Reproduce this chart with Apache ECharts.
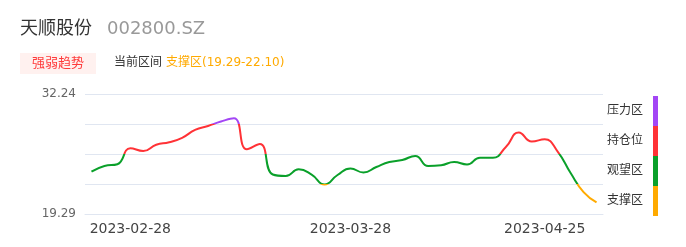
<!DOCTYPE html>
<html>
<head>
<meta charset="utf-8">
<script src="https://cdn.jsdelivr.net/npm/echarts@6/dist/echarts.min.js"></script>
<style>
html,body{margin:0;padding:0;background:#fff;}
#c{width:686px;height:247px;}
</style>
</head>
<body>
<div id="c"></div>
<script>
var dates = ['2023-02-23','2023-02-24','2023-02-27','2023-02-28','2023-03-01','2023-03-02','2023-03-03','2023-03-06','2023-03-07','2023-03-08',
  '2023-03-09','2023-03-10','2023-03-13','2023-03-14','2023-03-15','2023-03-16','2023-03-17','2023-03-20','2023-03-21','2023-03-22',
  '2023-03-28','2023-03-29','2023-03-30','2023-03-31','2023-04-03','2023-04-04','2023-04-06','2023-04-07','2023-04-10','2023-04-11',
  '2023-04-12','2023-04-13','2023-04-14','2023-04-17','2023-04-18','2023-04-25','2023-04-26','2023-04-27','2023-04-28','2023-05-04'];
var prices = [23.86,24.47,24.66,26.38,26.09,26.76,27.03,27.51,28.36,28.79,
  29.27,29.62,26.27,26.84,23.55,23.39,24.11,23.55,22.47,23.50,
  24.20,23.77,24.36,24.90,25.12,25.55,24.47,24.55,24.90,24.63,
  25.37,25.37,26.52,28.09,27.11,27.35,26.03,23.71,21.66,20.55];
var labelDates = ['2023-02-28','2023-03-28','2023-04-25'];
var yMin = 19.29, yMax = 32.24;
var zoneNames = ['压力区','持仓位','观望区','支撑区'];
var zoneColors = ['#a346f5','#ff3236','#0aa02a','#ffaa00'];
var zoneBounds = [19.29, 22.5275, 25.765, 29.0025, 32.24];
var stockName = '天顺股份', stockCode = '002800.SZ';
var tagText = '强弱趋势', curLabel = '当前区间', curZone = '支撑区(19.29-22.10)';

var FF = '"DejaVu Sans","Noto Sans CJK SC",sans-serif';
var chart = echarts.init(document.getElementById('c'));
var pieces = [];
for (var k = 0; k < 4; k++) {
  var lo = zoneBounds[3 - k], hi = zoneBounds[4 - k];
  pieces.push({gte: lo, lt: (k === 0 ? 1000 : hi), color: zoneColors[k], label: zoneNames[k]});
}
chart.setOption({
  animation: false,
  grid: {left: 85, right: 83, top: 94, bottom: 33},
  xAxis: {
    type: 'category', data: dates, boundaryGap: true,
    axisLine: {show: true, lineStyle: {color: '#E0E6F1'}},
    axisTick: {show: false},
    axisLabel: {
      interval: function (i, v) { return labelDates.indexOf(v) >= 0; },
      fontSize: 14, color: '#444', fontFamily: FF, margin: 8
    }
  },
  yAxis: {
    type: 'value', min: yMin, max: yMax, interval: (yMax - yMin) / 4,
    axisLine: {show: false}, axisTick: {show: false},
    splitLine: {lineStyle: {color: '#E0E6F1'}},
    axisLabel: {
      fontSize: 12, color: '#666', fontFamily: FF, margin: 9,
      formatter: function (v) {
        if (Math.abs(v - yMin) < 1e-6 || Math.abs(v - yMax) < 1e-6) return v.toFixed(2);
        return '';
      }
    }
  },
  visualMap: {
    type: 'piecewise', orient: 'vertical', right: 13, top: 81,
    itemWidth: 5, itemHeight: 30, itemGap: 0, itemSymbol: 'rect',
    align: 'right', textGap: 10, selectedMode: false,
    textStyle: {fontSize: 12, color: '#333', fontFamily: FF},
    pieces: pieces, dimension: 1, seriesIndex: 0
  },
  series: [{
    type: 'line', data: prices, smooth: true, symbol: 'none',
    lineStyle: {width: 2}
  }],
  graphic: [
    {type: 'text', left: 20, top: 20, style: {text: stockName, fontSize: 18, fill: '#333', fontFamily: FF}},
    {type: 'text', left: 107, top: 20, style: {text: stockCode, fontSize: 18, fill: '#999', fontFamily: FF}},
    {type: 'rect', shape: {x: 20, y: 53, width: 76, height: 21}, style: {fill: '#fff1ef'}},
    {type: 'text', x: 58, y: 63.5, style: {text: tagText, fontSize: 13, fill: '#ff3a3a', fontFamily: FF, align: 'center', verticalAlign: 'middle'}},
    {type: 'text', x: 114, y: 63, style: {text: curLabel, fontSize: 12, fill: '#333', fontFamily: FF, verticalAlign: 'middle'}},
    {type: 'text', x: 166, y: 63, style: {text: curZone, fontSize: 12, fill: '#ffaa00', fontFamily: FF, verticalAlign: 'middle'}}
  ]
});
</script>
</body>
</html>
